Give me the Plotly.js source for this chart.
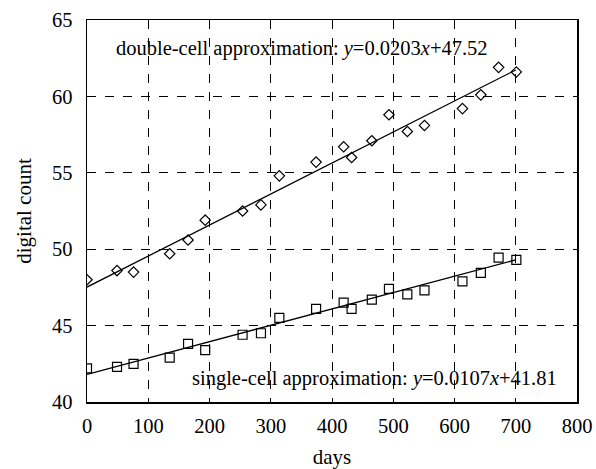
<!DOCTYPE html>
<html>
<head>
<meta charset="utf-8">
<script src="https://cdn.plot.ly/plotly-3.0.1.min.js"></script>
<style>html,body{margin:0;padding:0;background:#fff;}#chart{width:596px;height:469px;}</style>
</head>
<body>
<div id="chart"></div>
<script>
const days = [0, 49, 76, 135, 165, 193, 254, 284, 314, 374, 419, 432, 465, 493, 523, 551, 613, 643, 672, 701];
const doubleCell = [48.0, 48.6, 48.5, 49.7, 50.6, 51.9, 52.5, 52.9, 54.8, 55.7, 56.7, 56.0, 57.1, 58.8, 57.7, 58.1, 59.2, 60.1, 61.9, 61.6];
const singleCell = [42.2, 42.3, 42.5, 42.9, 43.8, 43.4, 44.4, 44.5, 45.5, 46.1, 46.5, 46.1, 46.7, 47.4, 47.05, 47.3, 47.9, 48.45, 49.45, 49.3];
const fitX = [0, 700];
const doubleFit = { slope: 0.0203, intercept: 47.52 };
const singleFit = { slope: 0.0107, intercept: 41.81 };
const xTicks = [0, 100, 200, 300, 400, 500, 600, 700, 800];
const yTicks = [40, 45, 50, 55, 60, 65];

const font = '"Liberation Serif", serif';

const traces = [
  { x: days, y: doubleCell, mode: 'markers', type: 'scatter',
    marker: { symbol: 'diamond-open', size: 8, color: '#000', line: { width: 1.2, color: '#000' } } },
  { x: days, y: singleCell, mode: 'markers', type: 'scatter',
    marker: { symbol: 'square-open', size: 9, color: '#000', line: { width: 1.2, color: '#000' } } },
  { x: fitX, y: fitX.map(v => doubleFit.slope * v + doubleFit.intercept), mode: 'lines', type: 'scatter',
    line: { color: '#000', width: 1.3 } },
  { x: fitX, y: fitX.map(v => singleFit.slope * v + singleFit.intercept), mode: 'lines', type: 'scatter',
    line: { color: '#000', width: 1.3 } }
];

const layout = {
  width: 596, height: 469,
  margin: { l: 86.5, r: 19.3, t: 20, b: 67.3 },
  paper_bgcolor: '#fff', plot_bgcolor: '#fff',
  showlegend: false,
  font: { family: font, color: '#000', size: 20.5 },
  xaxis: {
    range: [0, 800], tickvals: xTicks, ticktext: xTicks.map(String),
    showgrid: true, gridcolor: '#000', gridwidth: 1, griddash: 'dash',
    showline: true, linecolor: '#000', linewidth: 1.5, mirror: true,
    zeroline: false, ticks: 'outside', ticklen: 5, tickcolor: 'rgba(0,0,0,0)',
    tickfont: { family: font, size: 20.5, color: '#000' },
    title: { text: 'days', font: { family: font, size: 21, color: '#000' }, standoff: 14 }
  },
  yaxis: {
    range: [40, 65], tickvals: yTicks, ticktext: yTicks.map(String),
    showgrid: true, gridcolor: '#000', gridwidth: 1, griddash: 'dash',
    showline: true, linecolor: '#000', linewidth: 1.5, mirror: true,
    zeroline: false, ticks: 'outside', ticklen: 9, tickcolor: 'rgba(0,0,0,0)',
    tickfont: { family: font, size: 20.5, color: '#000' },
    title: { text: 'digital count', font: { family: font, size: 21, color: '#000' }, standoff: 14 }
  },
  annotations: [
    { x: 351, y: 63.16, xref: 'x', yref: 'y', xanchor: 'center', yanchor: 'middle', showarrow: false,
      text: 'double-cell approximation: <i>y</i>=0.0203<i>x</i>+47.52',
      font: { family: font, size: 20.5, color: '#000' } },
    { x: 469, y: 41.53, xref: 'x', yref: 'y', xanchor: 'center', yanchor: 'middle', showarrow: false,
      text: 'single-cell approximation: <i>y</i>=0.0107<i>x</i>+41.81',
      font: { family: font, size: 20.5, color: '#000' } }
  ]
};

Plotly.newPlot('chart', traces, layout, { displayModeBar: false, staticPlot: true });
</script>
</body>
</html>
